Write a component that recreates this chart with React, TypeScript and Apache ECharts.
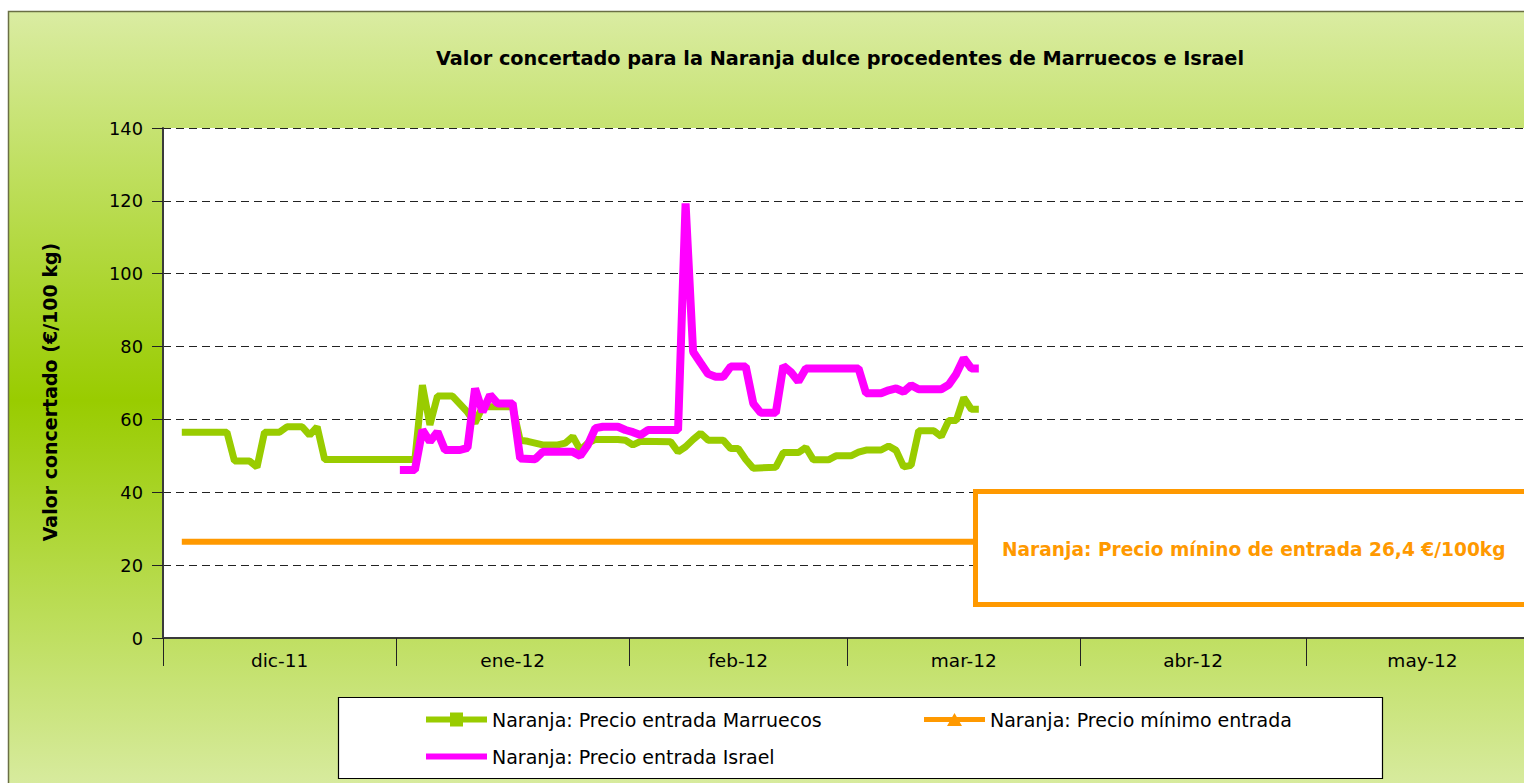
import React, { useEffect, useRef } from "react";
import * as echarts from "echarts";

const FONT = "'DejaVu Sans', 'Liberation Sans', sans-serif";

const TITLE = "Valor concertado para la Naranja dulce procedentes de Marruecos e Israel";
const Y_NAME = "Valor concertado (€/100 kg)";
const NOTE = "Naranja: Precio mínino de entrada 26,4 €/100kg";

const SERIES_MARRUECOS = "Naranja: Precio entrada Marruecos";
const SERIES_MINIMO = "Naranja: Precio mínimo entrada";
const SERIES_ISRAEL = "Naranja: Precio entrada Israel";

// month tick labels and month boundaries (dates)
const MONTH_LABELS = ["dic-11", "ene-12", "feb-12", "mar-12", "abr-12", "may-12"];
const MONTH_STARTS = ["2011-12-01", "2012-01-01", "2012-02-01", "2012-03-01", "2012-04-01", "2012-05-01", "2012-06-01"];

// Marruecos
const MARRUECOS_DATES = [
  "2011-12-03", "2011-12-09", "2011-12-10", "2011-12-12", "2011-12-13", "2011-12-14", "2011-12-16", "2011-12-17",
  "2011-12-19", "2011-12-20", "2011-12-21", "2011-12-22", "2012-01-03", "2012-01-04", "2012-01-05", "2012-01-06",
  "2012-01-08", "2012-01-10", "2012-01-11", "2012-01-12", "2012-01-16", "2012-01-17", "2012-01-18", "2012-01-19",
  "2012-01-20", "2012-01-22", "2012-01-23", "2012-01-24", "2012-01-25", "2012-01-26", "2012-01-27", "2012-01-30",
  "2012-01-31", "2012-02-01", "2012-02-02", "2012-02-06", "2012-02-07", "2012-02-08", "2012-02-09", "2012-02-10",
  "2012-02-11", "2012-02-13", "2012-02-14", "2012-02-15", "2012-02-16", "2012-02-17", "2012-02-20", "2012-02-21",
  "2012-02-23", "2012-02-24", "2012-02-25", "2012-02-27", "2012-02-28", "2012-03-01", "2012-03-02", "2012-03-03",
  "2012-03-05", "2012-03-06", "2012-03-07", "2012-03-08", "2012-03-09", "2012-03-10", "2012-03-12", "2012-03-13",
  "2012-03-14", "2012-03-15", "2012-03-16", "2012-03-17", "2012-03-18",
];
const MARRUECOS_VALUES = [
  56.5, 56.5, 48.6, 48.6, 46.9, 56.5, 56.5, 58,
  58, 55.7, 58, 49, 49, 69.4, 58.5, 66.4,
  66.4, 62, 59, 63.5, 63.5, 54.3, 54, 53.5,
  53, 53, 53.5, 55.3, 51.6, 53.5, 54.5, 54.5,
  54.3, 53, 54, 53.9, 51.1, 52.5, 54.5, 56.2,
  54.3, 54.3, 52, 52, 49, 46.6, 46.9, 50.9,
  50.9, 52.3, 48.9, 48.9, 50, 50, 51, 51.6,
  51.6, 52.7, 51.5, 47, 47.4, 56.9, 56.9, 55.3,
  59.7, 59.7, 66, 62.8, 62.8,
];

// Israel
const ISRAEL_DATES = [
  "2012-01-01", "2012-01-03", "2012-01-04", "2012-01-05", "2012-01-06", "2012-01-07", "2012-01-09", "2012-01-10",
  "2012-01-11", "2012-01-12", "2012-01-13", "2012-01-14", "2012-01-16", "2012-01-17", "2012-01-19", "2012-01-20",
  "2012-01-24", "2012-01-25", "2012-01-26", "2012-01-27", "2012-01-28", "2012-01-30", "2012-01-31", "2012-02-01",
  "2012-02-02", "2012-02-03", "2012-02-07", "2012-02-08", "2012-02-09", "2012-02-10", "2012-02-11", "2012-02-12",
  "2012-02-13", "2012-02-14", "2012-02-16", "2012-02-17", "2012-02-18", "2012-02-20", "2012-02-21", "2012-02-22",
  "2012-02-23", "2012-02-24", "2012-03-02", "2012-03-03", "2012-03-05", "2012-03-06", "2012-03-07", "2012-03-08",
  "2012-03-09", "2012-03-10", "2012-03-13", "2012-03-14", "2012-03-15", "2012-03-16", "2012-03-17", "2012-03-18",
];
const ISRAEL_VALUES = [
  46.1, 46.1, 57.1, 53.9, 56.6, 51.6, 51.6, 52.2,
  68.5, 62.1, 66.7, 64.4, 64.4, 49.3, 49.1, 51.1,
  51.1, 50, 53, 57.6, 58, 58, 57.1, 56.5,
  55.7, 57.1, 57.1, 119.3, 78.6, 75.5, 72.5, 71.7,
  71.7, 74.5, 74.5, 64.4, 61.8, 61.8, 74.7, 73,
  70.4, 74, 74, 67.2, 67.2, 68, 68.5, 67.6,
  69.4, 68.3, 68.3, 69.5, 72.5, 76.8, 74, 74,
];

// Precio mínimo de entrada
const MINIMO_DATES = ["2011-12-03", "2012-03-18"];
const MINIMO_VALUES = [26.4, 26.4];

const Y_MIN = 0;
const Y_MAX = 140;
const Y_INTERVAL = 20;

const ORIGIN = Date.UTC(2011, 11, 1);
const dayOf = (s: string) => {
  const [y, m, d] = s.split("-").map(Number);
  return (Date.UTC(y, m - 1, d) - ORIGIN) / 86400000;
};
// a daily value sits in the middle of its day on the date axis
const toPoints = (dates: string[], values: number[]) => dates.map((d, i) => [dayOf(d) + 0.5, values[i]]);

const MONTH_BOUNDS = MONTH_STARTS.map(dayOf);
const MONTH_MIDS = MONTH_LABELS.map((_, i) => (MONTH_BOUNDS[i] + MONTH_BOUNDS[i + 1]) / 2);

export default function App() {
  const ref = useRef<HTMLDivElement>(null);

  useEffect(() => {
    if (!ref.current) return;
    const chart = echarts.init(ref.current, null, { renderer: "svg" });

    const green = "#99cc00";
    const magenta = "#ff00ff";
    const orange = "#ff9900";

    const legendText = { fontFamily: FONT, fontSize: 19, color: "#000" };

    chart.setOption({
      animation: false,
      backgroundColor: "#ffffff",
      graphic: [
        {
          type: "rect",
          z: -10,
          silent: true,
          shape: { x: 8.5, y: 11.5, width: 1700, height: 778 },
          style: {
            fill: new echarts.graphic.LinearGradient(0, 0, 0, 1, [
              { offset: 0, color: "#daeca2" },
              { offset: 0.5, color: "#99cc00" },
              { offset: 1, color: "#d8eba0" },
            ]),
            stroke: "#6a6f45",
            lineWidth: 1.5,
          },
        },
        {
          type: "text",
          z: 10,
          style: {
            text: TITLE,
            x: 840,
            y: 58,
            align: "center",
            verticalAlign: "middle",
            fontFamily: FONT,
            fontWeight: "bold",
            fontSize: 19.3,
            fill: "#000",
          },
        },
        {
          type: "rect",
          z: 100,
          shape: { x: 975.5, y: 491.5, width: 700, height: 113 },
          style: { fill: "#ffffff", stroke: orange, lineWidth: 5 },
        },
        {
          type: "text",
          z: 101,
          style: {
            text: NOTE,
            x: 1002,
            y: 549,
            verticalAlign: "middle",
            fontFamily: FONT,
            fontWeight: "bold",
            fontSize: 18.6,
            fill: orange,
          },
        },
        {
          type: "rect",
          z: 1,
          shape: { x: 338.5, y: 697.5, width: 1044, height: 81 },
          style: { fill: "#ffffff", stroke: "#000", lineWidth: 1.2 },
        },
      ],
      legend: [
        {
          z: 5,
          left: 426,
          top: 710,
          padding: 0,
          itemWidth: 61,
          itemHeight: 14,
          selectedMode: false,
          textStyle: legendText,
          data: [{ name: SERIES_MARRUECOS, icon: "path://M0,4H61V10H0Z M24,0H37V14H24Z" }],
        },
        {
          z: 5,
          left: 924,
          top: 710,
          padding: 0,
          itemWidth: 61,
          itemHeight: 14,
          selectedMode: false,
          textStyle: legendText,
          data: [{ name: SERIES_MINIMO, icon: "path://M0,4.5H61V9.5H0Z M30.5,0.5L38,13.5H23Z" }],
        },
        {
          z: 5,
          left: 426,
          top: 747,
          padding: 0,
          itemWidth: 61,
          itemHeight: 14,
          selectedMode: false,
          textStyle: legendText,
          data: [{ name: SERIES_ISRAEL, icon: "path://M0,0H61V6H0Z" }],
        },
      ],
      grid: {
        left: 163,
        top: 128,
        right: 0,
        bottom: 145,
        show: true,
        backgroundColor: "#ffffff",
        borderWidth: 0,
        containLabel: false,
      },
      xAxis: {
        type: "value",
        min: MONTH_BOUNDS[0],
        max: MONTH_BOUNDS[MONTH_BOUNDS.length - 1],
        axisLine: { show: true, lineStyle: { color: "#3a3a3a", width: 2 } },
        axisTick: {
          show: true,
          customValues: MONTH_BOUNDS,
          length: 28,
          lineStyle: { color: "#222", width: 1 },
        },
        axisLabel: {
          show: true,
          customValues: MONTH_MIDS,
          margin: 13,
          fontFamily: FONT,
          fontSize: 18.5,
          color: "#000",
          formatter: (v: number) => {
            let best = 0;
            MONTH_MIDS.forEach((m, i) => {
              if (Math.abs(m - v) < Math.abs(MONTH_MIDS[best] - v)) best = i;
            });
            return MONTH_LABELS[best];
          },
        },
        splitLine: { show: false },
      },
      yAxis: {
        type: "value",
        min: Y_MIN,
        max: Y_MAX,
        interval: Y_INTERVAL,
        name: Y_NAME,
        nameLocation: "middle",
        nameGap: 104,
        nameTextStyle: {
          fontFamily: FONT,
          fontWeight: "bold",
          fontSize: 19,
          color: "#000",
          padding: [0, 18, 0, 0],
        },
        axisLine: { show: true, lineStyle: { color: "#3a3a3a", width: 2 } },
        axisTick: { show: true, length: 11, lineStyle: { color: "#222", width: 1 } },
        axisLabel: { margin: 20, fontFamily: FONT, fontSize: 17.8, color: "#000" },
        splitLine: { show: true, lineStyle: { color: "#222", width: 1, type: [8, 5] } },
      },
      series: [
        {
          name: SERIES_MARRUECOS,
          type: "line",
          data: toPoints(MARRUECOS_DATES, MARRUECOS_VALUES),
          showSymbol: false,
          symbol: "rect",
          lineStyle: { color: green, width: 7 },
          itemStyle: { color: green },
          z: 3,
        },
        {
          name: SERIES_MINIMO,
          type: "line",
          data: toPoints(MINIMO_DATES, MINIMO_VALUES),
          showSymbol: false,
          symbol: "triangle",
          lineStyle: { color: orange, width: 6 },
          itemStyle: { color: orange },
          z: 2,
        },
        {
          name: SERIES_ISRAEL,
          type: "line",
          data: toPoints(ISRAEL_DATES, ISRAEL_VALUES),
          showSymbol: false,
          symbol: "none",
          lineStyle: { color: magenta, width: 8 },
          itemStyle: { color: magenta },
          z: 4,
        },
      ],
    });

    return () => chart.dispose();
  }, []);

  return (
    <div
      ref={ref}
      style={{ position: "fixed", left: 0, top: 0, width: 1539, height: 783 }}
    />
  );
}
